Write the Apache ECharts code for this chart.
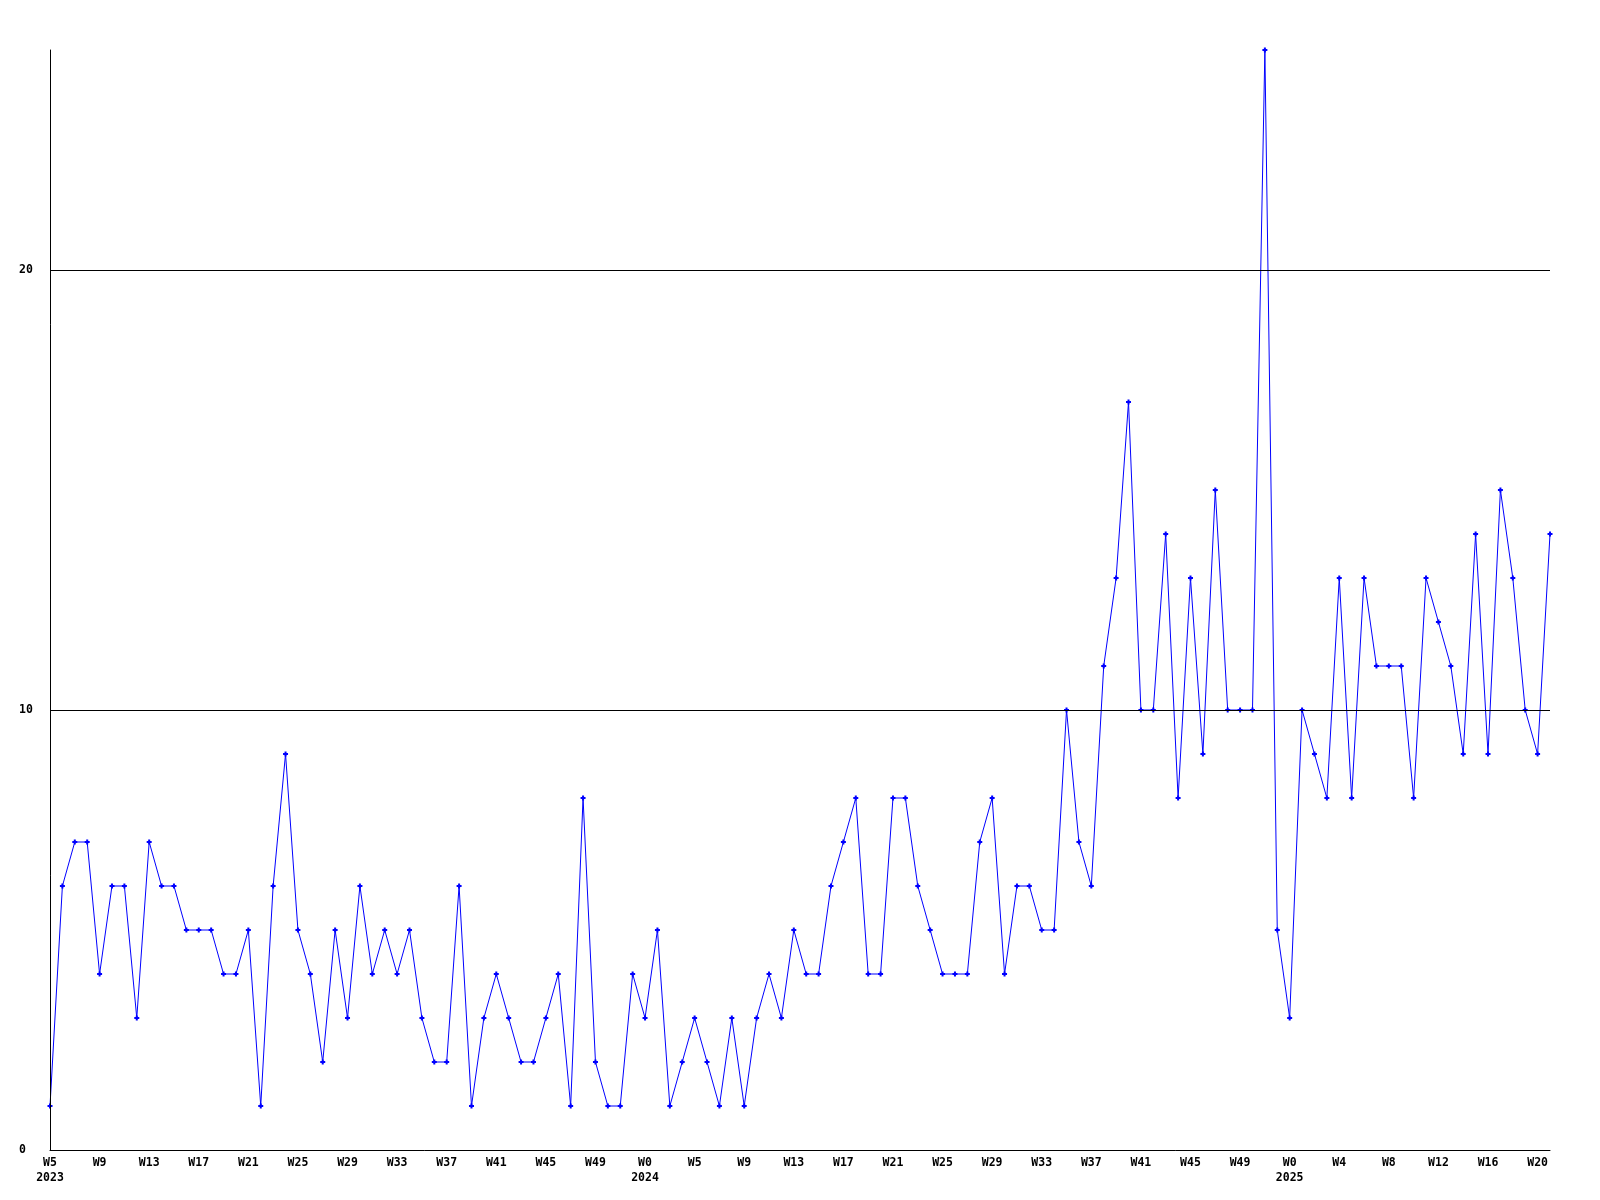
<!DOCTYPE html>
<html>
<head>
<meta charset="utf-8">
<script src="https://cdn.jsdelivr.net/npm/echarts@6/dist/echarts.min.js"></script>
<style>
html,body{margin:0;padding:0;background:#fff;}
#chart{width:1600px;height:1200px;}
</style>
</head>
<body>
<div id="chart"></div>
<script>
// Week labels per year (first week of each year carries the year on a second line)
var weeks2023 = [];
for (var w = 5; w <= 52; w++) weeks2023.push(w);
var weeks2024 = [0];
for (var w2 = 2; w2 <= 52; w2++) weeks2024.push(w2);
var weeks2025 = [];
for (var w3 = 0; w3 <= 21; w3++) weeks2025.push(w3);
var years = [2023, 2024, 2025];

var categories = [];
[weeks2023, weeks2024, weeks2025].forEach(function (arr, yi) {
  arr.forEach(function (wk, i) {
    categories.push(i === 0 ? 'W' + wk + '\n' + years[yi] : 'W' + wk);
  });
});

var values = [
  1,6,7,7,4,6,6,3,7,6,
  6,5,5,5,4,4,5,1,6,9,
  5,4,2,5,3,6,4,5,4,5,
  3,2,2,6,1,3,4,3,2,2,
  3,4,1,8,2,1,1,4,3,5,
  1,2,3,2,1,3,1,3,4,3,
  5,4,4,6,7,8,4,4,8,8,
  6,5,4,4,4,7,8,4,6,6,
  5,5,10,7,6,11,13,17,10,10,
  14,8,13,9,15,10,10,10,25,5,
  3,10,9,8,13,8,13,11,11,11,
  8,13,12,11,9,14,9,15,13,10,
  9,14
];

var yTicks = [0, 10, 20];
var yMax = 25;

var font = '"DejaVu Sans Mono", monospace';
var chart = echarts.init(document.getElementById('chart'), null, {renderer: 'canvas'});
chart.setOption({
  animation: false,
  backgroundColor: '#ffffff',
  grid: {left: 50, right: 50, top: 50, bottom: 50, containLabel: false, show: false},
  xAxis: {
    type: 'category',
    data: categories,
    boundaryGap: false,
    axisLine: {show: true, onZero: false, lineStyle: {color: '#000', width: 1}},
    axisTick: {show: false},
    splitLine: {show: false},
    splitArea: {show: false},
    axisLabel: {
      interval: 3,
      margin: 6,
      color: '#000',
      fontFamily: font,
      fontWeight: 'bold',
      fontSize: 11.5,
      lineHeight: 15,
      hideOverlap: false
    }
  },
  yAxis: {
    type: 'value',
    min: yTicks[0],
    max: yMax,
    interval: 10,
    z: 3,
    axisLine: {show: true, lineStyle: {color: '#000', width: 1}},
    axisTick: {show: false},
    splitArea: {show: false},
    splitLine: {show: true, showMinLine: false, showMaxLine: false, lineStyle: {color: '#000', width: 1}},
    axisLabel: {
      margin: 31,
      align: 'left',
      color: '#000',
      fontFamily: font,
      fontWeight: 'bold',
      fontSize: 11.5,
      showMaxLabel: false,
      formatter: function (v) { return yTicks.indexOf(v) >= 0 ? String(v) : ''; }
    }
  },
  series: [{
    type: 'line',
    data: values,
    showAllSymbol: true,
    symbol: 'path://M1.5,0H3.5V1.5H5V3.5H3.5V5H1.5V3.5H0V1.5H1.5Z',
    symbolSize: 5,
    lineStyle: {color: '#0000ff', width: 1},
    itemStyle: {color: '#0000ff'},
    z: 2
  }]
});
</script>
</body>
</html>
